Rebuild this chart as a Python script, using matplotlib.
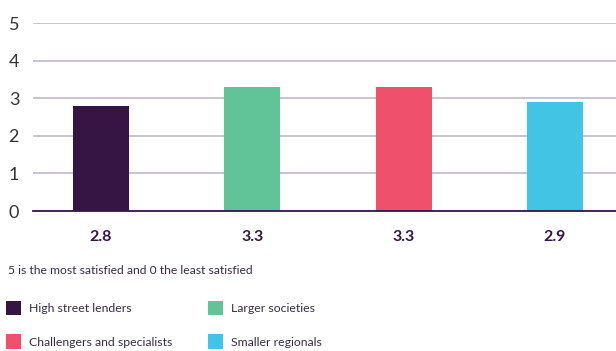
import matplotlib.pyplot as plt
import numpy as np

plt.rcParams['font.family'] = ['Lato', 'DejaVu Sans']

# data
groups = ["High street lenders", "Larger societies",
          "Challengers and specialists", "Smaller regionals"]
scores = [2.8, 3.3, 3.3, 2.9]
score_labels = ["2.8", "3.3", "3.3", "2.9"]
colors = ["#361545", "#61c499", "#ef506b", "#42c4e4"]
yticks = [0, 1, 2, 3, 4, 5]

text_col = "#3b2b4b"

fig = plt.figure(figsize=(6.16, 3.51), dpi=100)
ax = fig.add_axes([33 / 616, 1 - 211 / 351, (616 - 33) / 616, (211 - 23) / 351])

x = np.arange(len(groups))
bars = ax.bar(x, scores, width=0.37, color=colors, zorder=3, label=groups)
handles = list(bars)

ax.set_xlim(-0.449, 3.403)
ax.set_ylim(0, 5)
ax.set_yticks(yticks)
ax.set_yticklabels([str(t) for t in yticks], fontsize=13, color="#333333")
ax.tick_params(axis="y", length=0, pad=17.5)
for lab in ax.get_yticklabels():
    lab.set_horizontalalignment("left")
ax.set_xticks([])
ax.grid(axis="y", color="#b9b4c2", linewidth=1.1, zorder=0)
for s in ["top", "right", "left"]:
    ax.spines[s].set_visible(False)
ax.spines["bottom"].set_color("#361545")
ax.spines["bottom"].set_linewidth(1.3)
ax.spines["bottom"].set_zorder(4)

for xi, lab in zip(x, score_labels):
    ax.annotate(lab, (xi, 0), xytext=(0, -26), textcoords="offset pixels",
                ha="center", va="center", fontsize=11.5, fontweight="bold",
                color="#361545")

fig.text(8 / 616, 1 - 271 / 351, "5 is the most satisfied and 0 the least satisfied",
         fontsize=8.7, color=text_col, va="center", ha="left")

order = [0, 2, 1, 3]
leg = fig.legend([handles[i] for i in order], [groups[i] for i in order],
                 ncol=2, loc="upper left", bbox_to_anchor=(0.0, 1 - 295 / 351),
                 frameon=False, fontsize=8.8, handlelength=1.3, handleheight=1.5,
                 handletextpad=0.6, labelspacing=1.55, columnspacing=2.9,
                 borderaxespad=0, borderpad=0.45)
for t in leg.get_texts():
    t.set_color(text_col)

fig.savefig("out.png", dpi=100)
